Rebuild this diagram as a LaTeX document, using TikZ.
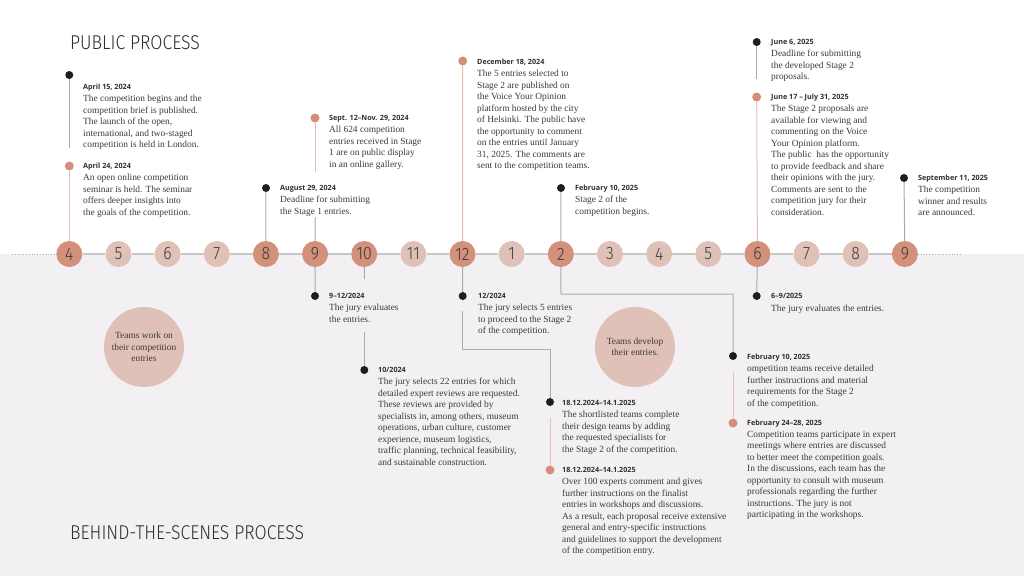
\documentclass[tikz,border=0pt]{standalone}
\usepackage{fontspec}
\setmainfont{Liberation Serif}
\newfontfamily\hdfont{Open Sans}
\newfontfamily\titlefont{Fira Sans}[UprightFont={* Light},FakeStretch=0.88]
\definecolor{bgray}{HTML}{F2F0F3}
\definecolor{cdark}{HTML}{D3907A}
\definecolor{clight}{HTML}{E0C1B7}
\definecolor{salm}{HTML}{D38F7A}
\definecolor{lsalm}{HTML}{E6BFB2}
\definecolor{lgray}{HTML}{ABABAB}
\definecolor{tline}{HTML}{C8C8C8}
\definecolor{dotk}{HTML}{1E1E1E}
\definecolor{bdc}{HTML}{3A3A3A}
\definecolor{hdc}{HTML}{2E2E2E}
\definecolor{numc}{HTML}{3A3A3A}
\tikzset{
  hd/.style={font=\hdfont\bfseries\fontsize{7.2}{8}\selectfont, text=hdc, inner sep=0pt, anchor=base west},
  bd/.style={font=\fontsize{9.4}{11.5}\selectfont, text=bdc, inner sep=0pt, align=left, anchor=north west, execute at begin node={\rule{0pt}{7pt}}},
  bdot/.style={circle, fill=dotk, minimum size=8pt, inner sep=0pt},
  sdot/.style={circle, fill=salm, minimum size=9pt, inner sep=0pt},
  mnum/.style={circle, minimum size=26pt, inner sep=0pt, font=\titlefont\fontsize{18}{18}\selectfont, text=numc},
  mdark/.style={mnum, fill=cdark},
  mlight/.style={mnum, fill=clight},
  bigc/.style={circle, fill=clight, minimum size=80pt, inner sep=0pt, align=center, font=\fontsize{9.4}{11.5}\selectfont, text=bdc},
  ttl/.style={font=\titlefont\fontsize{20}{20}\selectfont, text=hdc, anchor=west, inner sep=0pt},
  gline/.style={draw=lgray, line width=1pt},
  sline/.style={draw=lsalm, line width=1pt},
  tl/.style={draw=tline, line width=1.5pt},
  tld/.style={draw=lgray, line width=0.8pt, dotted},
}
\newcommand\ev[5]{%
  \node[hd] (#1h) at (#2,#3+2.6) {#4};
  \node[bd] (#1b) at (#2,#3+8) {#5};}
\begin{document}
\begin{tikzpicture}[x=1pt,y=-1pt]
\useasboundingbox (0,0) rectangle (1024,576);
\fill[white] (0,0) rectangle (1024,254);
\fill[bgray] (0,254) rectangle (1024,576);

% titles
\node[ttl] (tpub) at (70,43) {PUBLIC PROCESS};
\node[ttl] (tbeh) at (70,533) {BEHIND-THE-SCENES PROCESS};

% month circles
\foreach \n/\s [count=\i] in {4/mdark,5/mlight,6/mlight,7/mlight,8/mdark,9/mdark,10/mdark,11/mlight,12/mdark,1/mlight,2/mdark,3/mlight,4/mlight,5/mlight,6/mdark,7/mlight,8/mlight,9/mdark}
  \node[\s] (c\i) at ({69.3+49.15*(\i-1)},254) {\n};
\foreach \i in {1,...,17}{
  \pgfmathtruncatemacro\j{\i+1}
  \draw[tl] (c\i) -- (c\j);
}
\coordinate (tlL) at (12,254);
\coordinate (tlR) at (962,254);
\draw[tld] (tlL) -- (c1);
\draw[tld] (c18) -- (tlR);

% big circles
\node[bigc] (tw) at (144,347) {Teams work on\\their competition\\entries};
\node[bigc] (td) at (635,347) {Teams develop\\their entries.};

% ---------- public process ----------
\node[bdot] (dA) at (69.3,75) {};
\node[sdot] (dB) at (69.3,166) {};
\node[bdot] (dC) at (266,188) {};
\node[sdot] (dD) at (315,118) {};
\node[sdot] (dE) at (462.7,61) {};
\node[bdot] (dF) at (561,188) {};
\node[bdot] (dG) at (756.7,42) {};
\node[sdot] (dH) at (756.7,97) {};
\node[bdot] (dI) at (904,178) {};

\coordinate (eA) at (69.3,148);
\draw[gline] (dA) -- (eA);
\draw[sline] (dB) -- (c1);
\draw[gline] (dC) -- (c5);
\coordinate (eD1) at (315,172);
\coordinate (eD2) at (315,217);
\draw[sline] (dD) -- (eD1);
\draw[gline] (eD2) -- (c6);
\draw[sline] (dE) -- (c9);
\draw[gline] (dF) -- (c11);
\coordinate (eG) at (756.7,79);
\draw[gline] (dG) -- (eG);
\draw[sline] (dH) -- (c15);
\draw[gline] (dI) -- (c18);

\ev{A}{83}{87}{April 15, 2024}{The competition begins and the\\competition brief is published.\\The launch of the open,\\international, and two-staged\\competition is held in London.}
\ev{B}{83}{166}{April 24, 2024}{An open online competition\\seminar is held. The seminar\\offers deeper insights into\\the goals of the competition.}
\ev{C}{280}{188}{August 29, 2024}{Deadline for submitting\\the Stage 1 entries.}
\ev{D}{329}{118}{Sept. 12–Nov. 29, 2024}{All 624 competition\\entries received in Stage\\1 are on public display\\in an online gallery.}
\ev{E}{477}{62}{December 18, 2024}{The 5 entries selected to\\Stage 2 are published on\\the Voice Your Opinion\\platform hosted by the city\\of Helsinki. The public have\\the opportunity to comment\\on the entries until January\\31, 2025. The comments are\\sent to the competition teams.}
\ev{F}{575}{188}{February 10, 2025}{Stage 2 of the\\competition begins.}
\ev{G}{771}{42}{June 6, 2025}{Deadline for submitting\\the developed Stage 2\\proposals.}
\ev{H}{771}{97}{June 17 – July 31, 2025}{The Stage 2 proposals are\\available for viewing and\\commenting on the Voice\\Your Opinion platform.\\The public\ \ has the opportunity\\to provide feedback and share\\their opinions with the jury.\\Comments are sent to the\\competition jury for their\\consideration.}
\ev{I}{918}{178}{September 11, 2025}{The competition\\winner and results\\are announced.}

% ---------- behind the scenes ----------
\node[bdot] (dJ) at (315,296) {};
\node[bdot] (dK) at (364.3,370) {};
\node[bdot] (dL) at (462.7,296) {};
\node[bdot] (dM) at (550,402) {};
\node[sdot] (dN) at (550,470) {};
\node[bdot] (dO) at (733,356) {};
\node[sdot] (dP) at (733,423) {};
\node[bdot] (dQ) at (756.7,296) {};

\draw[gline] (c6) -- (dJ);
\coordinate (k1) at (364.3,279);
\coordinate (k2) at (364.3,332);
\draw[gline] (c7) -- (k1);
\draw[gline] (k2) -- (dK);
\draw[gline] (c9) -- (dL);
\coordinate (l1) at (462.7,311);
\coordinate (l2) at (462.7,349);
\draw[gline] (l1) -- (l2) -| (dM);
\coordinate (m1) at (550,418);
\draw[sline] (m1) -- (dN);
\coordinate (o1) at (561,294);
\draw[gline] (c11) -- (o1) -| (dO);
\coordinate (o2) at (733,372);
\draw[sline] (o2) -- (dP);
\draw[gline] (c15) -- (dQ);

\ev{J}{329}{296}{9–12/2024}{The jury evaluates\\the entries.}
\ev{K}{378}{370}{10/2024}{The jury selects 22 entries for which\\detailed expert reviews are requested.\\These reviews are provided by\\specialists in, among others, museum\\operations, urban culture, customer\\experience, museum logistics,\\traffic planning, technical feasibility,\\and sustainable construction.}
\ev{L}{478}{296}{12/2024}{The jury selects 5 entries\\to proceed to the Stage 2\\of the competition.}
\ev{M}{562}{403}{18.12.2024–14.1.2025}{The shortlisted teams complete\\their design teams by adding\\the requested specialists for\\the Stage 2 of the competition.}
\ev{N}{562}{470}{18.12.2024–14.1.2025}{Over 100 experts comment and gives\\further instructions on the finalist\\entries in workshops and discussions.\\As a result, each proposal receive extensive\\general and entry-specific instructions\\and guidelines to support the development\\of the competition entry.}
\ev{O}{747}{357}{February 10, 2025}{ompetition teams receive detailed\\further instructions and material\\requirements for the Stage 2\\of the competition.}
\ev{P}{747}{423}{February 24–28, 2025}{Competition teams participate in expert\\meetings where entries are discussed\\to better meet the competition goals.\\In the discussions, each team has the\\opportunity to consult with museum\\professionals regarding the further\\instructions. The jury is not\\participating in the workshops.}
\ev{Q}{771}{296}{6–9/2025}{The jury evaluates the entries.}
\end{tikzpicture}
\end{document}
